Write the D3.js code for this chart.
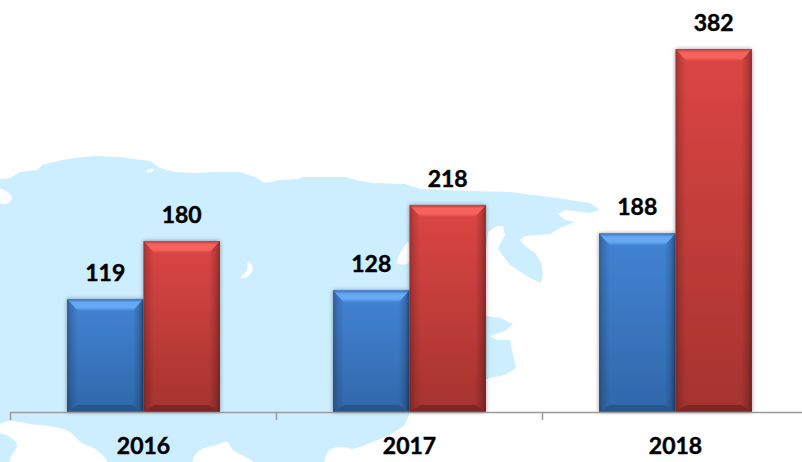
<!DOCTYPE html>
<html>
<head>
<meta charset="utf-8">
<script src="https://cdn.jsdelivr.net/npm/d3@7"></script>
<style>
html, body { margin: 0; padding: 0; background: #fff; }
svg { display: block; }
text { font-family: Lato, "Open Sans", sans-serif; font-weight: 700; fill: #000; stroke: #000; stroke-width: 0.45px; }
</style>
</head>
<body>
<svg id="chart" width="802" height="462"></svg>
<script>
const years = ["2016", "2017", "2018"];
const seriesNames = ["blue", "red"];
const blueValues = [119, 128, 188];
const redValues = [180, 218, 382];

const landColor = "#cdeeff";
const axisColor = "#9a9a9a";

// background map outline in pixels. not data, just decoration
const landOutline = [[0,179],[10,178],[20,172],[38,170],[42,165],[62,160],[75,158],[95,156],[120,157],[150,161],[160,168],[175,172],[195,173],[215,172],[240,172],[255,177],[265,183],[280,180],[298,179],[303,177],[345,177],[360,181],[375,183],[405,184],[420,189],[470,191],[510,192],[550,197],[590,203],[600,210],[590,213],[565,210],[558,214],[565,220],[575,222],[560,228],[550,234],[525,236],[520,240],[525,246],[535,253],[541,262],[543,275],[541,283],[530,278],[510,265],[500,252],[498,248],[505,235],[503,226],[497,226],[488,232],[480,300],[486,316],[500,318],[513,324],[505,331],[490,336],[497,340],[510,340],[512,350],[516,368],[505,375],[490,378],[470,385],[430,400],[410,412],[405,425],[390,435],[365,445],[350,450],[352,462],[0,462]];
const whitePatches = [
    [[0,425],[8,421],[30,424],[55,427],[68,431],[82,443],[95,449],[107,462],[10,462],[17,445],[10,437],[0,432]],
    [[193,462],[200,450],[217,445],[227,442],[233,450],[253,462]],
    [[325,462],[330,450],[340,447],[352,450],[352,462]],
    [[0,189],[7,192],[12,198],[8,203],[0,203]],
    [[248,262],[253,268],[247,277],[240,278],[247,270]],
    [[147,170],[154,169],[152,172],[147,172]],
    [[408,242],[397,263],[408,263]]
];

const palette = {
    blue: { top: "#4383d4", bottom: "#3068aa", cap: "#66aaf4", capEdge: "#3a70bc", low: "#28578c" },
    red: { top: "#dc4644", bottom: "#a5332f", cap: "#f6645f", capEdge: "#c23a38", low: "#7c2725" }
};

const baseY = 412;
const svg = d3.select("#chart");
const defs = svg.append("defs");

const x = d3.scaleBand().domain(years).range([10.5, 808.5]);
const inner = d3.scaleBand().domain(seriesNames).range([0, x.bandwidth()]).paddingInner(0).paddingOuter(0.74);
const y = d3.scaleLinear().domain([0, 400]).range([baseY, baseY - 380]);

seriesNames.forEach(name => {
    const grad = defs.append("linearGradient")
        .attr("id", `body-${name}`)
        .attr("x1", 0).attr("y1", 0).attr("x2", 0).attr("y2", 1);
    grad.append("stop").attr("offset", 0).attr("stop-color", palette[name].top);
    grad.append("stop").attr("offset", 1).attr("stop-color", palette[name].bottom);

    const cap = defs.append("linearGradient")
        .attr("id", `cap-${name}`)
        .attr("x1", 0).attr("y1", 0).attr("x2", 0).attr("y2", 1);
    cap.append("stop").attr("offset", 0).attr("stop-color", palette[name].capEdge);
    cap.append("stop").attr("offset", 0.3).attr("stop-color", palette[name].cap);
    cap.append("stop").attr("offset", 0.7).attr("stop-color", palette[name].cap);
    cap.append("stop").attr("offset", 1).attr("stop-color", palette[name].top);
});

// dark edges fading into the face, stands in for the side bevels
const edges = defs.append("linearGradient").attr("id", "edges");
[[0, 0.28], [0.05, 0.14], [0.14, 0], [0.86, 0], [0.95, 0.18], [1, 0.36]].forEach(s => {
    edges.append("stop").attr("offset", s[0]).attr("stop-color", "#000").attr("stop-opacity", s[1]);
});

const shadow = defs.append("filter")
    .attr("id", "bar-shadow")
    .attr("x", "-15%").attr("y", "-5%").attr("width", "130%").attr("height", "110%");
shadow.append("feDropShadow")
    .attr("dx", 0).attr("dy", 0)
    .attr("stdDeviation", 2)
    .attr("flood-color", "#000")
    .attr("flood-opacity", 0.4);

defs.append("filter")
    .attr("id", "soft")
    .attr("x", "-5%").attr("y", "-20%").attr("width", "110%").attr("height", "140%")
    .append("feGaussianBlur")
    .attr("stdDeviation", 0.7);

// map
const outline = d3.line();
const soft = d3.line().curve(d3.curveCatmullRomClosed);
svg.append("path").attr("d", outline(landOutline) + "Z").attr("fill", landColor);
svg.append("g").selectAll("path")
    .data(whitePatches)
    .join("path")
    .attr("d", d => soft(d))
    .attr("fill", "#fff");

// bars
const rows = years.flatMap((year, i) => [
    { year, name: "blue", value: blueValues[i] },
    { year, name: "red", value: redValues[i] }
]);

const bar = svg.append("g").selectAll("g")
    .data(rows)
    .join("g")
    .attr("transform", d => `translate(${x(d.year) + inner(d.name)},${y(d.value)})`);

const bevelTop = 12;
const bevelSide = 11;
const bevelBottom = 7;
const w = inner.bandwidth();
const h = d => baseY - y(d.value);

bar.append("rect")
    .attr("width", w)
    .attr("height", h)
    .attr("fill", d => `url(#body-${d.name})`)
    .attr("filter", "url(#bar-shadow)");

bar.append("rect")
    .attr("width", w)
    .attr("height", h)
    .attr("fill", "url(#edges)");

bar.append("path")
    .attr("d", d => `M0,${h(d)}L${bevelSide},${h(d) - bevelBottom}H${w - bevelSide}L${w},${h(d)}Z`)
    .attr("fill", d => palette[d.name].low)
    .attr("filter", "url(#soft)");
bar.append("path")
    .attr("d", `M0,0H${w}L${w - bevelSide},${bevelTop}H${bevelSide}Z`)
    .attr("fill", d => `url(#cap-${d.name})`)
    .attr("filter", "url(#soft)");

// value labels
svg.append("g").selectAll("text")
    .data(rows)
    .join("text")
    .attr("x", d => x(d.year) + inner(d.name) + w / 2)
    .attr("y", d => y(d.value) - 18)
    .attr("text-anchor", "middle")
    .attr("font-size", 23)
    .text(d => d.value);

// axis, ticks sit on the band edges rather than the centres
const axis = svg.append("g")
    .attr("transform", `translate(0,${baseY})`)
    .call(d3.axisBottom(x).tickSize(0).tickPadding(26).tickSizeOuter(0));
axis.select(".domain").attr("stroke", axisColor).attr("stroke-width", 1.5);
axis.selectAll("text")
    .attr("font-size", 23)
    .attr("font-family", null)
    .attr("fill", "#000");
axis.selectAll(".edge")
    .data(years)
    .join("line")
    .attr("class", "edge")
    .attr("x1", d => x(d)).attr("x2", d => x(d))
    .attr("y1", 0).attr("y2", 8)
    .attr("stroke", axisColor)
    .attr("stroke-width", 1.5);
</script>
</body>
</html>
